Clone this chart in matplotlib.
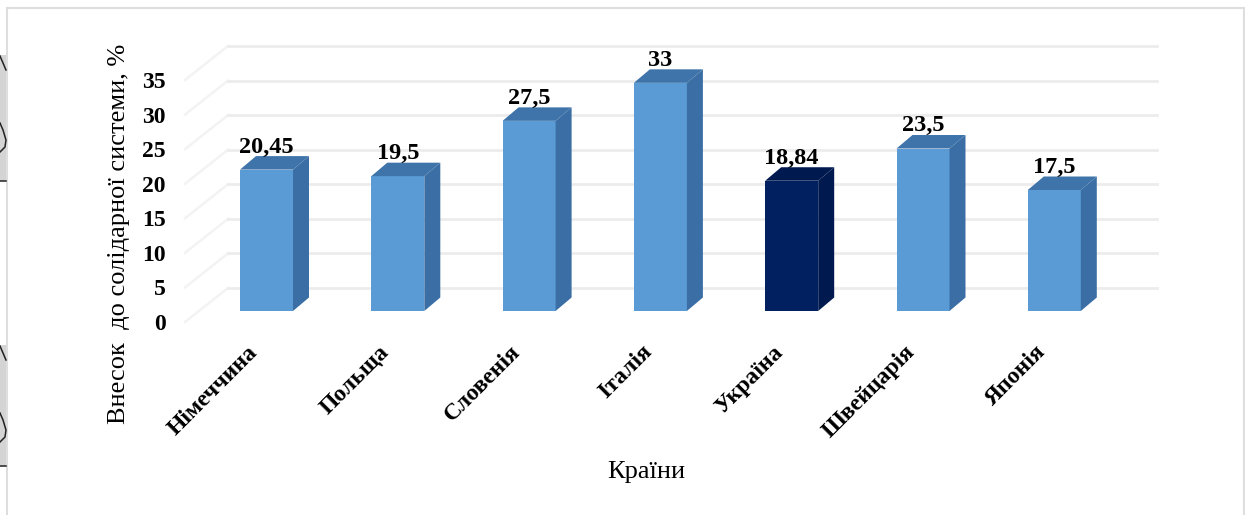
""" Contribution to the solidarity system by country, faux 3D columns
"""

import matplotlib
matplotlib.use('Agg')
import matplotlib.pyplot as plt

from matplotlib.lines import Line2D
from matplotlib.patches import Polygon, Rectangle
from matplotlib.transforms import ScaledTranslation

WIDTH, HEIGHT = 1245, 515

countries = ['Німеччина', 'Польща', 'Словенія', 'Італія', 'Україна',
             'Швейцарія', 'Японія']
values = [20.45, 19.5, 27.5, 33, 18.84, 23.5, 17.5]
value_labels = ['20,45', '19,5', '27,5', '33', '18,84', '23,5', '17,5']
y_ticks = [0, 5, 10, 15, 20, 25, 30, 35]

plt.rcParams['font.family'] = ['Liberation Serif', 'DejaVu Serif']

fig = plt.figure(figsize=(WIDTH / 100, HEIGHT / 100), dpi=100)


def px_box(left, right, top, bottom):
    return [left / WIDTH, 1 - bottom / HEIGHT,
            (right - left) / WIDTH, (bottom - top) / HEIGHT]


# y=0 is at pixel 322, y=35 at pixel 80, first bar centre at 266.5
x_left, x_right = (185 - 266.5) / 131.3, (1157 - 266.5) / 131.3
ax = fig.add_axes(px_box(185, 1157, 80, 322))
ax.set_xlim(x_left, x_right)
ax.set_ylim(0, 35)
ax.patch.set_visible(False)
for spine in ax.spines.values():
    spine.set_visible(False)
ax.tick_params(length=0)

px_x = 1 / 131.3
px_y = 35 / 242
wall_dx, wall_dy = 43 * px_x, 34 * px_y
bar_dx, bar_dy = 16 * px_x, 13.5 * px_y
lift = 11 * px_y
bar_width = 53 * px_x

# back wall and side wall grid
for tick in y_ticks:
    ax.plot([x_left, x_left + wall_dx], [tick, tick + wall_dy],
            color='#f3f3f3', lw=1.8, clip_on=False, zorder=1)
    ax.plot([x_left + wall_dx, x_right], [tick + wall_dy, tick + wall_dy],
            color='#ececec', lw=2.0, clip_on=False, zorder=1)

positions = list(range(len(countries)))
colors = ['#002060' if c == 'Україна' else '#5b9bd5' for c in countries]
side_colors = ['#001a50' if c == 'Україна' else '#3a6ea5' for c in countries]
top_colors = ['#001a50' if c == 'Україна' else '#3f74ab' for c in countries]

ax.bar(positions, values, width=bar_width, bottom=lift, color=colors, zorder=3,
       clip_on=False)

for pos, val, label, side, top in zip(positions, values, value_labels, side_colors, top_colors):
    x1 = pos + bar_width / 2
    x0 = pos - bar_width / 2
    y1 = lift + val
    ax.add_patch(Polygon([(x1, lift), (x1 + bar_dx, lift + bar_dy),
                          (x1 + bar_dx, y1 + bar_dy), (x1, y1)],
                         facecolor=side, edgecolor='none', zorder=3, clip_on=False))
    ax.add_patch(Polygon([(x0, y1), (x0 + bar_dx, y1 + bar_dy),
                          (x1 + bar_dx, y1 + bar_dy), (x1, y1)],
                         facecolor=top, edgecolor='none', zorder=3, clip_on=False))
    ax.annotate(label, (pos, y1 + bar_dy), xytext=(0, -1),
                textcoords='offset points', ha='center', va='bottom',
                fontsize=17.5, fontweight='bold', zorder=4, annotation_clip=False)

ax.set_yticks(y_ticks)
ax.set_yticklabels([str(t) for t in y_ticks], fontsize=17, fontweight='bold')
ax.tick_params(axis='y', pad=14)
ax.set_xticks(positions)
ax.set_xticklabels(countries, rotation=45, ha='right', rotation_mode='anchor',
                   fontsize=17, fontweight='bold')
ax.tick_params(axis='x', pad=9)
label_shift = ScaledTranslation(-19 / 100, -7 / 100, fig.dpi_scale_trans)
for tick_label in ax.get_xticklabels():
    tick_label.set_transform(tick_label.get_transform() + label_shift)

fig.text(119 / WIDTH, 1 - 234 / HEIGHT, 'Внесок  до солідарної системи, %',
         rotation=90, ha='center', va='center', fontsize=19)
fig.text(646 / WIDTH, 1 - 472 / HEIGHT, 'Країни', ha='center', va='center', fontsize=19)

# picture frame and page scraps on the left
frame = dict(color='#dedede', lw=1.5, transform=fig.transFigure)
fig.add_artist(Line2D([7 / WIDTH, 7 / WIDTH], [0, 1 - 8 / HEIGHT], **frame))
fig.add_artist(Line2D([7 / WIDTH, 1244 / WIDTH], [1 - 8 / HEIGHT, 1 - 8 / HEIGHT], **frame))
fig.add_artist(Line2D([1244 / WIDTH, 1244 / WIDTH], [0, 1 - 8 / HEIGHT], **frame))
for top_px, bottom_px in [(55, 181), (345, 466)]:
    fig.add_artist(Rectangle((0, 1 - bottom_px / HEIGHT), 6 / WIDTH, (bottom_px - top_px) / HEIGHT,
                             facecolor='#d4d4d4', edgecolor='none',
                             transform=fig.transFigure))
    scraps = [([0, 6], [top_px + 1, top_px + 15]),
              ([0, 3, 6, 5, 0], [top_px + 68, top_px + 75, top_px + 85, top_px + 92, top_px + 97]),
              ([0, 6], [bottom_px, bottom_px])]
    for xs, ys in scraps:
        fig.add_artist(Line2D([x / WIDTH for x in xs], [1 - y / HEIGHT for y in ys],
                              color='#222222', lw=1.1, transform=fig.transFigure))

fig.savefig('out.png', dpi=100)
